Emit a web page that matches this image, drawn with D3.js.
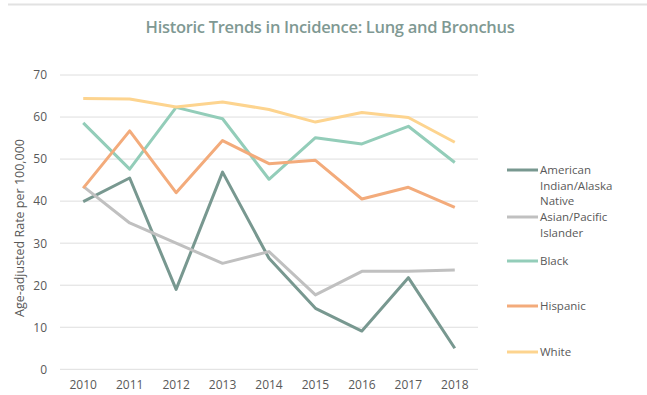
<!DOCTYPE html>
<html>
<head>
<meta charset="utf-8">
<script src="https://cdn.jsdelivr.net/npm/d3@7"></script>
<style>
  html, body { margin: 0; padding: 0; background: #fff; }
  svg { display: block; font-family: "Open Sans", "Noto Sans", sans-serif; }
</style>
</head>
<body>
<svg id="chart" width="647" height="395"></svg>
<script>
// Incidence of lung and bronchus cancer, age-adjusted rate per 100,000
const years = ["2010", "2011", "2012", "2013", "2014", "2015", "2016", "2017", "2018"];
const seriesNames = ["American Indian/Alaska Native", "Asian/Pacific Islander", "Black", "Hispanic", "White"];
const aianValues     = [39.9, 45.5, 19.0, 46.9, 26.4, 14.5, 9.1, 21.8, 5.0];
const apiValues      = [43.5, 34.8, 30.0, 25.2, 28.0, 17.7, 23.3, 23.3, 23.6];
const blackValues    = [58.6, 47.6, 62.3, 59.6, 45.2, 55.1, 53.6, 57.8, 49.2];
const hispanicValues = [43.1, 56.7, 42.0, 54.4, 48.9, 49.7, 40.5, 43.3, 38.5];
const whiteValues    = [64.4, 64.3, 62.4, 63.6, 61.8, 58.8, 61.1, 59.9, 54.0];
const yTicks = [0, 10, 20, 30, 40, 50, 60, 70];
const legendLines = [["American", "Indian/Alaska", "Native"], ["Asian/Pacific", "Islander"], ["Black"], ["Hispanic"], ["White"]];

const colors = ["#789890", "#c0c0c0", "#93cdb9", "#f3ab7b", "#fdd48f"];
const allValues = [aianValues, apiValues, blackValues, hispanicValues, whiteValues];

const svg = d3.select("#chart");
const plot = { left: 60, right: 478, top: 75, bottom: 369.3 };

const x = d3.scaleBand().domain(years).range([plot.left, plot.right]);
const y = d3.scaleLinear().domain([0, 70]).range([plot.bottom, plot.top]);

// frame edge along the top
svg.append("line")
  .attr("x1", 8).attr("x2", 647).attr("y1", 4.5).attr("y2", 4.5)
  .attr("stroke", "#e2e2e2").attr("stroke-width", 2);

// title
svg.append("text")
  .attr("x", 330).attr("y", 33)
  .attr("text-anchor", "middle")
  .attr("fill", "#7f9993")
  .attr("font-size", 16.5)
  .attr("font-weight", 600)
  .attr("font-family", "'Open Sans', sans-serif")
  .attr("letter-spacing", -0.3)
  .text("Historic Trends in Incidence: Lung and Bronchus");

// gridlines
svg.append("g")
  .selectAll("line")
  .data(yTicks)
  .join("line")
  .attr("x1", plot.left).attr("x2", plot.right)
  .attr("y1", d => y(d)).attr("y2", d => y(d))
  .attr("stroke", "#dedede").attr("stroke-width", 1);

// y axis labels
const yAxis = d3.axisLeft(y).tickValues(yTicks).tickSize(0).tickPadding(0);
const yg = svg.append("g").attr("transform", "translate(47,0)").call(yAxis);
yg.select(".domain").remove();
yg.selectAll("text")
  .attr("fill", "#595959").attr("font-size", 12)
  .attr("font-family", "'Open Sans', sans-serif");

// x axis labels
const xAxis = d3.axisBottom(x).tickSize(0).tickPadding(0);
const xg = svg.append("g").attr("transform", "translate(0,380)").call(xAxis);
xg.select(".domain").remove();
xg.selectAll("text")
  .attr("fill", "#595959").attr("font-size", 12)
  .attr("font-family", "'Open Sans', sans-serif");

// y axis title
svg.append("text")
  .attr("transform", "translate(24,228) rotate(-90)")
  .attr("text-anchor", "middle")
  .attr("fill", "#595959")
  .attr("font-size", 12.5)
  .attr("font-family", "'Open Sans', sans-serif")
  .text("Age-adjusted Rate per 100,000");

// series lines
const line = d3.line()
  .x((d, i) => x(years[i]) + x.bandwidth() / 2)
  .y(d => y(d));

svg.append("g")
  .selectAll("path")
  .data(allValues)
  .join("path")
  .attr("d", d => line(d))
  .attr("fill", "none")
  .attr("stroke", (d, i) => colors[i])
  .attr("stroke-width", 3)
  .attr("stroke-linejoin", "round");

// legend
const legendY = [170, 217, 261, 306, 352];
const lg = svg.append("g");
seriesNames.forEach((name, i) => {
  lg.append("line")
    .attr("x1", 507).attr("x2", 538)
    .attr("y1", legendY[i]).attr("y2", legendY[i])
    .attr("stroke", colors[i]).attr("stroke-width", 3);
  const t = lg.append("text")
    .attr("x", 540).attr("y", legendY[i] + 4.2)
    .attr("fill", "#595959").attr("font-size", 11.5)
    .attr("font-family", "'Open Sans', sans-serif");
  legendLines[i].forEach((ln, j) => {
    t.append("tspan").attr("x", 540).attr("dy", j === 0 ? 0 : 15.5).text(ln);
  });
});
</script>
</body>
</html>
